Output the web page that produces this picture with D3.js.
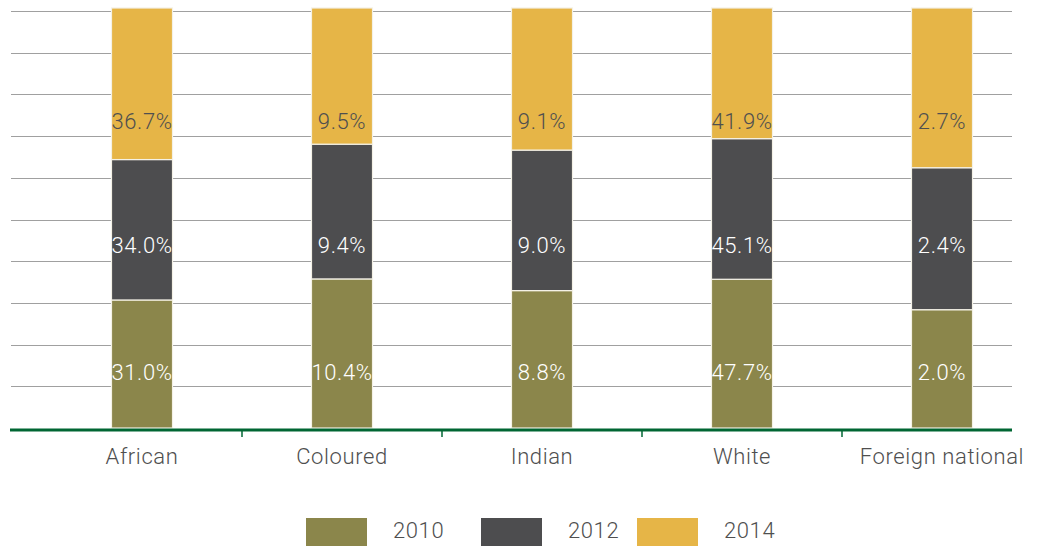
<!DOCTYPE html>
<html>
<head>
<meta charset="utf-8">
<script src="https://cdn.jsdelivr.net/npm/d3@7"></script>
<style>
	html, body { margin: 0; padding: 0; background: #fff; }
	svg text { font-family: Roboto, "DejaVu Sans", sans-serif; font-weight: 300; letter-spacing: 0.6px; }
</style>
</head>
<body>
<div id="chart"></div>
<script>
const categories = ['African', 'Coloured', 'Indian', 'White', 'Foreign national'];
const years = ['2010', '2012', '2014'];
const values2010 = [31.0, 10.4, 8.8, 47.7, 2.0];
const values2012 = [34.0, 9.4, 9.0, 45.1, 2.4];
const values2014 = [36.7, 9.5, 9.1, 41.9, 2.7];
const gridTicks = [0.1, 0.2, 0.3, 0.4, 0.5, 0.6, 0.7, 0.8, 0.9, 1];
// label height (share of the bar) per year, as laid out in the original
const labelAt = { '2010': 0.128, '2012': 0.43, '2014': 0.726 };

const colors = { '2010': '#8b864b', '2012': '#4d4d4f', '2014': '#e6b547' };
const labelColors = { '2010': '#ffffff', '2012': '#ffffff', '2014': '#4f4f4f' };

const w = 1042, h = 552;
const series = { '2010': values2010, '2012': values2012, '2014': values2014 };
const rows = categories.map((c, i) => {
	const r = { cat: c };
	years.forEach(y => r[y] = series[y][i]);
	return r;
});

const stack = d3.stack().keys(years).offset(d3.stackOffsetExpand);
const stacked = stack(rows);

const x = d3.scaleBand().domain(categories).range([42, 1042]).padding(0);
const y = d3.scaleLinear().domain([0, 1]).range([428, 8]);
const gridY = d3.scaleLinear().domain([0, 1]).range([428, 11]);
const barW = x.bandwidth() * 0.305;

const svg = d3.select('#chart').append('svg')
	.attr('width', w)
	.attr('height', h)
	.attr('viewBox', `0 0 ${w} ${h}`);

// grid
svg.append('g').selectAll('line')
	.data(gridTicks)
	.enter()
	.append('line')
	.attr('x1', 11).attr('x2', 1012)
	.attr('y1', d => Math.round(gridY(d)) + 0.5)
	.attr('y2', d => Math.round(gridY(d)) + 0.5)
	.attr('stroke', '#a0a0a0')
	.attr('stroke-width', 1);

// bars
const g = svg.append('g');
stacked.forEach(s => {
	g.selectAll(null)
		.data(s)
		.enter()
		.append('rect')
		.attr('x', d => x(d.data.cat) + x.bandwidth() / 2 - barW / 2)
		.attr('y', d => y(d[1]))
		.attr('width', barW)
		.attr('height', d => y(d[0]) - y(d[1]))
		.attr('fill', colors[s.key])
		.attr('stroke', '#f4f1e6')
		.attr('stroke-width', 1.2);
});

// labels
stacked.forEach(s => {
	g.selectAll(null)
		.data(s)
		.enter()
		.append('text')
		.attr('x', d => x(d.data.cat) + x.bandwidth() / 2)
		.attr('y', y(labelAt[s.key]))
		.attr('text-anchor', 'middle')
		.attr('dominant-baseline', 'middle')
		.attr('font-size', 22)
		.attr('fill', labelColors[s.key])
		.text(d => d.data[s.key].toFixed(1) + '%');
});

// x axis
const axisY = 430;
svg.append('line')
	.attr('x1', 10).attr('x2', 1012)
	.attr('y1', axisY).attr('y2', axisY)
	.attr('stroke', '#006633')
	.attr('stroke-width', 3);

svg.append('g').selectAll('line')
	.data(categories.slice(1))
	.enter()
	.append('line')
	.attr('x1', d => x(d)).attr('x2', d => x(d))
	.attr('y1', axisY).attr('y2', axisY + 7)
	.attr('stroke', '#006633')
	.attr('stroke-width', 1.5);

svg.append('g').selectAll('text')
	.data(categories)
	.enter()
	.append('text')
	.attr('x', d => x(d) + x.bandwidth() / 2)
	.attr('y', 464)
	.attr('text-anchor', 'middle')
	.attr('font-size', 22)
	.attr('fill', '#4f4f4f')
	.text(d => d);

// legend
const legendX = [306, 481, 637];
const legend = svg.append('g').selectAll('g')
	.data(years)
	.enter()
	.append('g')
	.attr('transform', (d, i) => `translate(${legendX[i]}, 518)`);

legend.append('rect')
	.attr('width', 61)
	.attr('height', 28)
	.attr('fill', d => colors[d]);

legend.append('text')
	.attr('x', 87)
	.attr('y', 14)
	.attr('dominant-baseline', 'middle')
	.attr('font-size', 22)
	.attr('fill', '#4f4f4f')
	.text(d => d);
</script>
</body>
</html>
